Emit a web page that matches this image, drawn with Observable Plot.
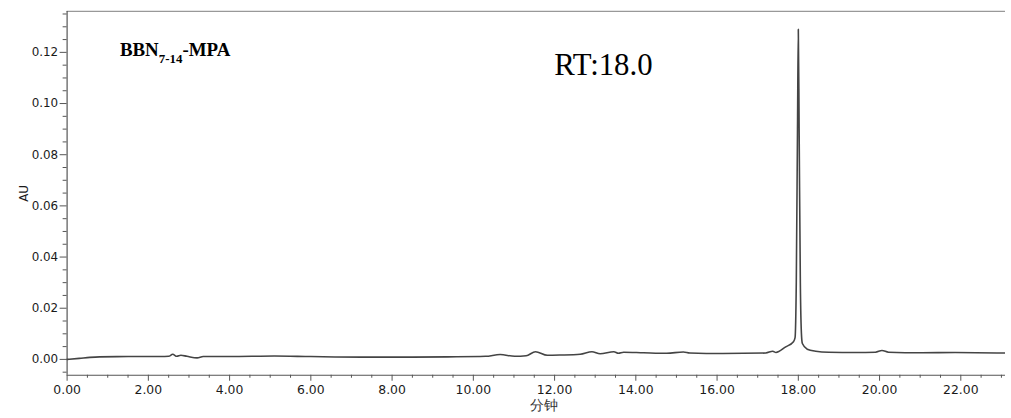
<!DOCTYPE html>
<html>
<head>
<meta charset="utf-8">
<script src="https://cdn.jsdelivr.net/npm/d3@7"></script>
<script src="https://cdn.jsdelivr.net/npm/@observablehq/plot@0.6"></script>
<style>
  html, body { margin: 0; padding: 0; background: #fff; overflow: hidden; }
  #chart { width: 1005px; overflow: hidden; }
  #chart svg { display: block; }
</style>
</head>
<body>
<div id="chart"></div>
<script>
// Retention time (minutes)
const time = [0, 0.3, 0.56, 0.8, 1.5, 2.3, 2.5, 2.6, 2.7, 2.8, 2.95, 3.2, 3.35, 4.0, 5.1, 6.0, 7.25, 8.5, 9.37, 10.3, 10.66, 11.02, 11.3, 11.53, 11.82, 12.15, 12.63, 12.92, 13.12, 13.46, 13.57, 13.7, 14.19, 14.76, 15.17, 15.33, 16.14, 17.2, 17.37, 17.45, 17.69, 17.88, 17.92, 17.95, 17.98, 18.0, 18.02, 18.05, 18.08, 18.1, 18.22, 18.43, 18.75, 19.41, 19.9, 20.06, 20.22, 21.04, 21.86, 23.1];
// Absorbance (AU)
const absorb = [0, 0.0004, 0.0008, 0.001, 0.0011, 0.0011, 0.0012, 0.002, 0.0012, 0.0016, 0.0012, 0.0006, 0.0011, 0.0011, 0.0013, 0.0011, 0.0009, 0.0009, 0.001, 0.0012, 0.0019, 0.0012, 0.0014, 0.003, 0.0016, 0.0017, 0.002, 0.003, 0.0022, 0.003, 0.0024, 0.0028, 0.0026, 0.0024, 0.0029, 0.0025, 0.0023, 0.0025, 0.0032, 0.0027, 0.0049, 0.0069, 0.0085, 0.03, 0.09, 0.129, 0.09, 0.03, 0.009, 0.0062, 0.004, 0.0032, 0.0028, 0.0027, 0.0028, 0.0035, 0.0028, 0.0026, 0.0027, 0.0025];

const xMajorTicks = [0, 2, 4, 6, 8, 10, 12, 14, 16, 18, 20, 22];
const xMinorTicks = [0.5, 1, 1.5, 2.5, 3, 3.5, 4.5, 5, 5.5, 6.5, 7, 7.5, 8.5, 9, 9.5, 10.5, 11, 11.5, 12.5, 13, 13.5, 14.5, 15, 15.5, 16.5, 17, 17.5, 18.5, 19, 19.5, 20.5, 21, 21.5, 22.5, 23];
const yMajorTicks = [0, 0.02, 0.04, 0.06, 0.08, 0.10, 0.12];
const yMinorTicks = [-0.005, 0.005, 0.01, 0.015, 0.025, 0.03, 0.035, 0.045, 0.05, 0.055, 0.065, 0.07, 0.075, 0.085, 0.09, 0.095, 0.105, 0.11, 0.115, 0.125, 0.13, 0.135];

const xLabel = "分钟";
const yLabel = "AU";
const sampleName = "BBN-MPA";
const annotations = [
  {t: 1.3, v: 0.1185, text: "BBN-MPA"},
  {t: 11.99, v: 0.1111, text: "RT:18.0"}
];

const xDomain = [0, 23.1];
const yDomain = [-0.0062, 0.136];

const data = time.map((t, i) => ({t, v: absorb[i]}));

const chart = Plot.plot({
  width: 1011,
  height: 418,
  marginLeft: 67,
  marginRight: 0,
  marginTop: 11,
  marginBottom: 41,
  style: {fontFamily: "DejaVu Sans, sans-serif", background: "#fff", color: "#1a1a1a"},
  x: {domain: xDomain},
  y: {domain: yDomain},
  marks: [
    Plot.ruleY([yDomain[1]], {stroke: "#999", strokeWidth: 1.2}),
    Plot.axisX({anchor: "bottom", ticks: xMinorTicks, tickSize: 3, tickFormat: () => "", label: null, stroke: "#555"}),
    Plot.axisX({anchor: "bottom", ticks: xMajorTicks, tickSize: 6, tickPadding: 4, tickFormat: d => d.toFixed(2), fontSize: 12.5, label: xLabel, labelAnchor: "center", labelArrow: "none", labelOffset: 35, stroke: "#555", fill: "#1a1a1a"}),
    Plot.axisY({anchor: "left", ticks: yMinorTicks, tickSize: 4, tickFormat: () => "", label: null, stroke: "#555"}),
    Plot.axisY({anchor: "left", ticks: yMajorTicks, tickSize: 7, tickPadding: 2, tickFormat: d => d.toFixed(2), fontSize: 12, label: yLabel, labelAnchor: "center", labelArrow: "none", labelOffset: 48, stroke: "#555", fill: "#1a1a1a"}),
    Plot.ruleX([xDomain[0]], {stroke: "#555", strokeWidth: 1.2}),
    Plot.ruleY([yDomain[0]], {stroke: "#555", strokeWidth: 1.2}),
    Plot.line(data, {x: "t", y: "v", stroke: "#444", strokeWidth: 1.6, curve: "monotone-x"}),
    Plot.text(annotations, {x: "t", y: "v", text: "text", textAnchor: "start", lineAnchor: "bottom", className: "annot"})
  ]
});

document.getElementById("chart").appendChild(chart);

// Enlarge the x axis label a little
d3.select(chart).selectAll('[aria-label="x-axis label"] text').attr("font-size", 14).attr("fill", "#333").attr("dx", 8);

// Style annotation texts
d3.select(chart).selectAll(".annot text").each(function() {
  const el = d3.select(this);
  el.attr("font-family", "Liberation Serif, Times New Roman, serif").attr("fill", "#000");
  const txt = el.text();
  if (txt === sampleName) {
    el.text(null).attr("font-weight", "bold").attr("font-size", 19);
    el.append("tspan").text("BBN");
    el.append("tspan").text("7-14").attr("font-size", 13).attr("dy", 7);
    el.append("tspan").text("-MPA").attr("dy", -7);
  } else {
    el.attr("font-size", 31);
  }
});
</script>
</body>
</html>
